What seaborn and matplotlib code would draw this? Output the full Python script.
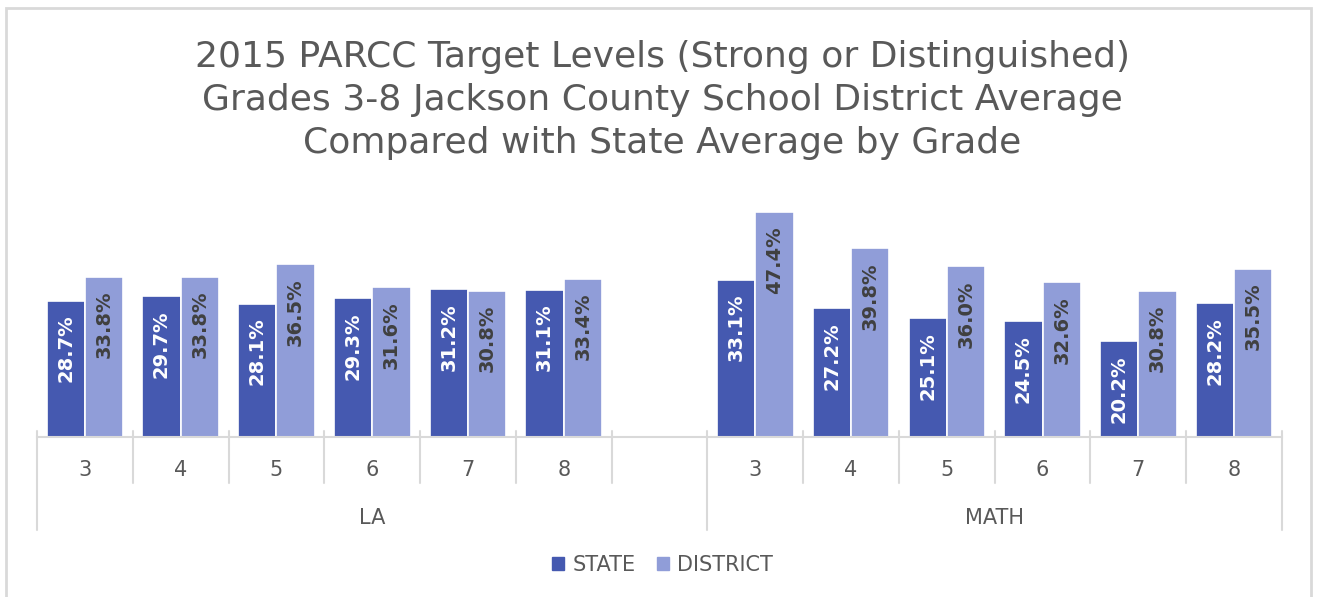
import pandas as pd
import numpy as np
import matplotlib.pyplot as plt
import seaborn as sns
from matplotlib.patches import Rectangle
from matplotlib.lines import Line2D

# Datos
subjects = ["LA", "MATH"]
grades = ["3", "4", "5", "6", "7", "8"]
state_la = [28.7, 29.7, 28.1, 29.3, 31.2, 31.1]
district_la = [33.8, 33.8, 36.5, 31.6, 30.8, 33.4]
state_math = [33.1, 27.2, 25.1, 24.5, 20.2, 28.2]
district_math = [47.4, 39.8, 36.0, 32.6, 30.8, 35.5]
series = ["STATE", "DISTRICT"]
colors = ["#4559B0", "#909DD8"]
title = ("2015 PARCC Target Levels (Strong or Distinguished)\n"
         "Grades 3-8 Jackson County School District Average\n"
         "Compared with State Average by Grade")

# Tabla larga; el hueco entre LA y MATH es una categoria vacia
rows = []
for g, s, d in zip(grades, state_la, district_la):
    rows.append(("LA-" + g, "STATE", s))
    rows.append(("LA-" + g, "DISTRICT", d))
for g, s, d in zip(grades, state_math, district_math):
    rows.append(("MATH-" + g, "STATE", s))
    rows.append(("MATH-" + g, "DISTRICT", d))
df = pd.DataFrame(rows, columns=["slot", "series", "value"])
order = ["LA-" + g for g in grades] + ["gap"] + ["MATH-" + g for g in grades]

sns.set_style("white")
plt.rcParams["font.family"] = ["DejaVu Sans"]
gray = "#595959"
line_c = "#D9D9D9"

fig = plt.figure(figsize=(13.25, 5.97), dpi=100)
ax = fig.add_axes([37 / 1325, 1 - 437 / 597, (1282 - 37) / 1325, 237 / 597])

sns.barplot(data=df, x="slot", y="value", hue="series", order=order,
            hue_order=series, palette=colors, width=0.8, saturation=1,
            edgecolor="white", linewidth=1.2, ax=ax, legend=False)

ax.set_xlim(-0.5, len(order) - 0.5)
ax.set_ylim(0, 50)
ax.set_xlabel("")
ax.set_ylabel("")
ax.set_xticks([])
ax.set_yticks([])
for sp in ["top", "right", "left"]:
    ax.spines[sp].set_visible(False)
ax.spines["bottom"].set_color(line_c)
ax.spines["bottom"].set_linewidth(1.5)

# Etiquetas de valor (dentro de la barra, arriba, giradas)
for cont, tc in zip(ax.containers, ["white", "#404040"]):
    for bar, v in zip(cont, cont.datavalues):
        if np.isnan(v):
            continue
        ax.annotate(f"{v:.1f}%", (bar.get_x() + bar.get_width() / 2, v),
                    xytext=(0, -10), textcoords="offset points",
                    rotation=90, ha="center", va="top", color=tc,
                    fontsize=14, fontweight="bold")

# Eje de categorias en dos niveles
tr = ax.get_xaxis_transform()
for i in range(len(order) + 1):
    x = i - 0.5
    long_tick = x in (-0.5, 6.5, 12.5)
    y1 = -(530 - 437) / 237 if long_tick else -(483 - 437) / 237
    ax.add_line(Line2D([x, x], [6 / 237, y1], transform=tr, color=line_c,
                       lw=1.5, clip_on=False))
for i, slot in enumerate(order):
    if slot != "gap":
        ax.text(i, -(470 - 437) / 237, slot.split("-")[1], transform=tr,
                ha="center", va="center", fontsize=15, color=gray)
ax.text(3.0, -(518 - 437) / 237, subjects[0], transform=tr, ha="center",
        va="center", fontsize=15, color=gray)
ax.text(9.5, -(518 - 437) / 237, subjects[1], transform=tr, ha="center",
        va="center", fontsize=15, color=gray)

# Titulo
fig.text(0.5, 1 - 100 / 597, title, ha="center", va="center", fontsize=26,
         color=gray, linespacing=1.32)

# Leyenda
handles = [Rectangle((0, 0), 1, 1, color=c) for c in colors]
fig.legend(handles, series, loc="center", bbox_to_anchor=(0.5, 1 - 565 / 597),
           ncol=2, frameon=False, fontsize=15, labelcolor=gray,
           handlelength=0.6, handleheight=0.6, handletextpad=0.4,
           columnspacing=1.0)

# Borde del grafico
fig.add_artist(Rectangle((6 / 1325, -0.05), (1311 - 6) / 1325, 1.05 - 8 / 597,
                         transform=fig.transFigure, fill=False,
                         edgecolor=line_c, lw=2))

plt.savefig("out.png", dpi=100)
